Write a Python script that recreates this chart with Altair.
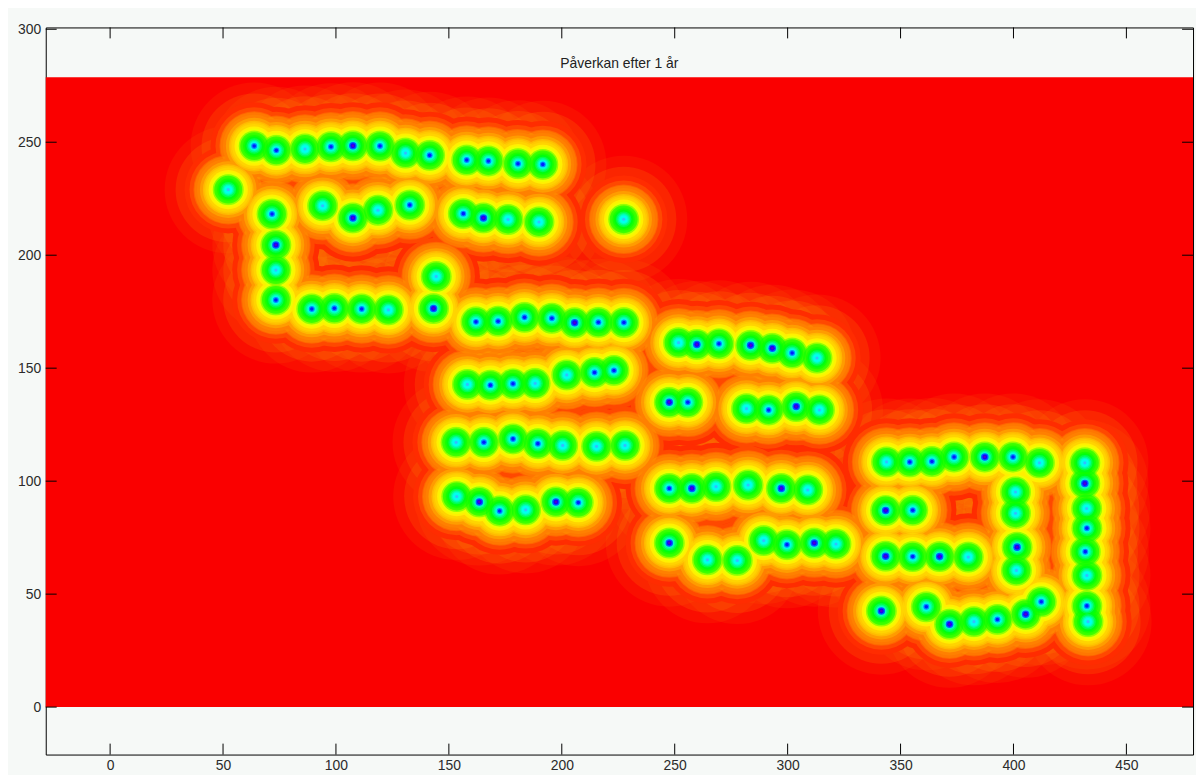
import altair as alt
import pandas as pd

# ---- data ----
# well positions (x, y) and relative strength of the centre (1 = weak, 3 = strong)
wx = [63.8, 73.6, 86.3, 97.8, 107.5, 119.5, 130.8, 141.5, 157.9, 167.5, 180.6, 191.6,
      52.3,
      94.1, 107.5, 118.6, 132.7,
      156.4, 165.3, 176.2, 189.9,
      71.7, 73.4, 73.4, 73.4,
      89.3, 99.3, 111.4, 123.2,
      144.4, 143.2,
      227.4,
      162.0, 171.8, 183.5, 195.6, 205.7, 216.2, 227.5,
      158.2, 168.4, 178.4, 188.2, 202.2, 214.5, 223.1,
      153.2, 165.5, 178.4, 189.4, 200.4, 215.4, 228.0,
      153.5, 163.5, 172.5, 184.0, 197.4, 207.3,
      251.7, 259.8, 269.6, 283.6, 293.2, 302.0, 313.0,
      247.6, 255.8,
      281.8, 291.6, 303.8, 314.1,
      247.6, 257.6, 268.3, 282.5, 297.2, 308.9,
      247.6, 264.5, 277.7, 289.4, 299.7, 311.8, 321.4,
      343.8, 354.1, 363.9, 373.7, 387.3, 399.8, 411.5,
      431.6, 431.6, 432.4, 432.5, 431.8, 432.5, 432.5, 433.0,
      400.9, 400.9, 401.6, 401.3,
      343.4, 355.4,
      343.4, 355.4, 367.3, 380.0,
      341.5,
      361.4, 371.7, 382.5, 392.9, 405.4, 412.3]
wy = [248.3, 246.4, 247.0, 248.0, 248.4, 248.3, 245.2, 244.2, 242.1, 241.7, 240.5, 240.2,
      229.0,
      221.9, 216.5, 219.9, 222.2,
      218.4, 216.5, 215.8, 214.7,
      218.2, 204.5, 193.4, 180.2,
      176.2, 176.5, 176.2, 175.8,
      190.6, 176.4,
      215.9,
      170.5, 170.8, 172.5, 172.1, 170.1, 170.3, 170.2,
      142.8, 142.5, 143.1, 143.3, 147.0, 148.1, 149.0,
      117.2, 117.2, 118.7, 116.6, 115.8, 115.4, 115.8,
      93.2, 90.8, 86.8, 87.3, 90.8, 90.5,
      161.3, 160.5, 160.8, 160.1, 158.8, 156.7, 154.5,
      134.9, 134.9,
      132.1, 131.5, 133.0, 131.5,
      96.8, 96.8, 97.6, 98.3, 96.8, 96.1,
      72.6, 65.2, 64.9, 73.7, 71.9, 72.6, 72.2,
      108.5, 108.5, 108.7, 110.7, 110.7, 110.7, 108.1,
      108.1, 99.0, 87.9, 79.2, 68.8, 58.3, 44.8, 37.8,
      95.2, 85.8, 70.8, 60.5,
      87.0, 87.1,
      66.8, 66.6, 66.6, 66.4,
      42.5,
      44.4, 36.7, 37.8, 38.8, 41.1, 46.6]
ws = [2, 2, 1, 2, 3, 2, 1, 2, 2, 2, 2, 2,
      1,
      1, 3, 1, 2,
      2, 3, 1, 1,
      2, 3, 1, 2,
      2, 2, 2, 1,
      1, 3,
      1,
      2, 2, 2, 2, 3, 2, 2,
      1, 2, 2, 1, 1, 2, 2,
      1, 2, 2, 2, 1, 1, 1,
      1, 3, 2, 1, 3, 2,
      1, 3, 2, 3, 3, 2, 1,
      3, 2,
      1, 2, 3, 1,
      2, 3, 1, 1, 3, 1,
      3, 1, 1, 1, 2, 3, 1,
      1, 2, 2, 2, 3, 2, 1,
      1, 3, 1, 2, 2, 1, 2, 1,
      1, 1, 3, 1,
      3, 2,
      3, 2, 3, 1,
      3,
      2, 3, 1, 2, 3, 2]

x_ticks = [0, 50, 100, 150, 200, 250, 300, 350, 400, 450]
y_ticks = [0, 50, 100, 150, 200, 250, 300]
x_domain = [-28.5, 479.5]
y_domain = [-21.0, 300.8]
field_x = [-28.5, 479.5]
field_y = [0, 278.8]
title_text = "Påverkan efter 1 år"

W, H = 1155, 732
FONT = "Liberation Sans"

wells = pd.DataFrame({"x": wx, "y": wy, "s": ws})
field = pd.DataFrame({"x0": [field_x[0]], "x1": [field_x[1]],
                      "y0": [field_y[0]], "y1": [field_y[1]]})
xt = pd.DataFrame({"t": x_ticks})
yt = pd.DataFrame({"t": y_ticks})

xscale = alt.Scale(domain=x_domain, nice=False, zero=False)
yscale = alt.Scale(domain=y_domain, nice=False, zero=False)
xaxis = alt.Axis(values=x_ticks, ticks=False, domain=False, grid=False,
                 labelPadding=4, labelFontSize=14, labelFont=FONT,
                 labelColor="#2b2b2b", title=None, labelFlush=False)
yaxis = alt.Axis(values=y_ticks, ticks=False, domain=False, grid=False,
                 labelPadding=5, labelFontSize=14, labelFont=FONT,
                 labelColor="#2b2b2b", title=None, labelFlush=False)


def X(f):
    return alt.X(f, type="quantitative", scale=xscale, axis=xaxis)


def Y(f):
    return alt.Y(f, type="quantitative", scale=yscale, axis=yaxis)


bg = alt.Chart(field).mark_rect(color="#FA0000").encode(
    x=X("x0"), x2="x1", y=Y("y0"), y2="y1")


def disc(r, fill, op=1.0, smin=1):
    return alt.Chart(wells).transform_filter(alt.datum.s >= smin).mark_circle(
        color=fill, opacity=op, size=(2 * r) ** 2, strokeWidth=0
    ).encode(x=X("x"), y=Y("y"))


# (radius px, colour, opacity, minimum strength) -- drawn outermost first.
# Opaque rings give the hue ramp; translucent ones accumulate where wells crowd.
rings = [
    (64, "#FF6000", 0.14, 1),
    (53, "#FF8000", 0.2, 1),
    (44, "#FF2C00", 1.0, 1),
    (39, "#FF4800", 1.0, 1),
    (35, "#FF6400", 1.0, 1),
    (34, "#FFB000", 0.25, 1),
    (31.5, "#FF8000", 1.0, 1),
    (28.5, "#FF9C00", 1.0, 1),
    (25.5, "#FFB800", 1.0, 1),
    (24, "#FFF000", 0.3, 1),
    (22.3, "#FFD400", 1.0, 1),
    (19.8, "#FFF000", 1.0, 1),
    (17.6, "#EEFF00", 1.0, 1),
    (15.6, "#C8FF00", 1.0, 1),
    (14, "#98FF00", 1.0, 1),
    (15.5, "#30FF00", 0.35, 1),
    (12.6, "#60FF00", 1.0, 1),
    (11.2, "#30FF00", 1.0, 1),
    (14, "#00FF00", 0.45, 1),
    (9.7, "#00FF10", 1.0, 1),
    (7.8, "#00FF50", 1.0, 1),
    (6.3, "#00FF90", 1.0, 1),
    (5.0, "#00FFC8", 1.0, 1),
    (3.8, "#00FFF0", 1.0, 1),
    (1.6, "#30C0FF", 1.0, 1),
    (3.0, "#0090FF", 1.0, 2),
    (1.8, "#0020FF", 1.0, 2),
    (3.8, "#0060FF", 1.0, 3),
    (2.5, "#1800FF", 1.0, 3),
    (1.3, "#5000D0", 1.0, 3),
]

layers = [bg] + [disc(r, c, o, s) for r, c, o, s in rings]

# inward tick marks on all four sides
TL = 11
layers.append(alt.Chart(xt).mark_rule(color="black", strokeWidth=1).encode(
    x=X("t"), y=alt.value(H), y2=alt.value(H - TL)))
layers.append(alt.Chart(xt).mark_rule(color="black", strokeWidth=1).encode(
    x=X("t"), y=alt.value(0), y2=alt.value(TL)))
layers.append(alt.Chart(yt).mark_rule(color="black", strokeWidth=1).encode(
    y=Y("t"), x=alt.value(0), x2=alt.value(TL)))
layers.append(alt.Chart(yt).mark_rule(color="black", strokeWidth=1).encode(
    y=Y("t"), x=alt.value(W), x2=alt.value(W - TL)))

chart = alt.layer(*layers).properties(
    width=W, height=H,
    title=alt.TitleParams(title_text, offset=-60, frame="group", anchor="middle",
                          baseline="alphabetic", fontSize=14, fontWeight="normal",
                          font=FONT, color="#222222"),
    autosize=alt.AutoSizeParams(type="none"),
    padding={"left": 38, "top": 17, "right": 3, "bottom": 18},
    background="#F6F9F7",
).configure_view(stroke="black", strokeWidth=1, fill="#F6F9F7")

chart.save("out.html", embed_options={"renderer": "svg", "actions": False})
